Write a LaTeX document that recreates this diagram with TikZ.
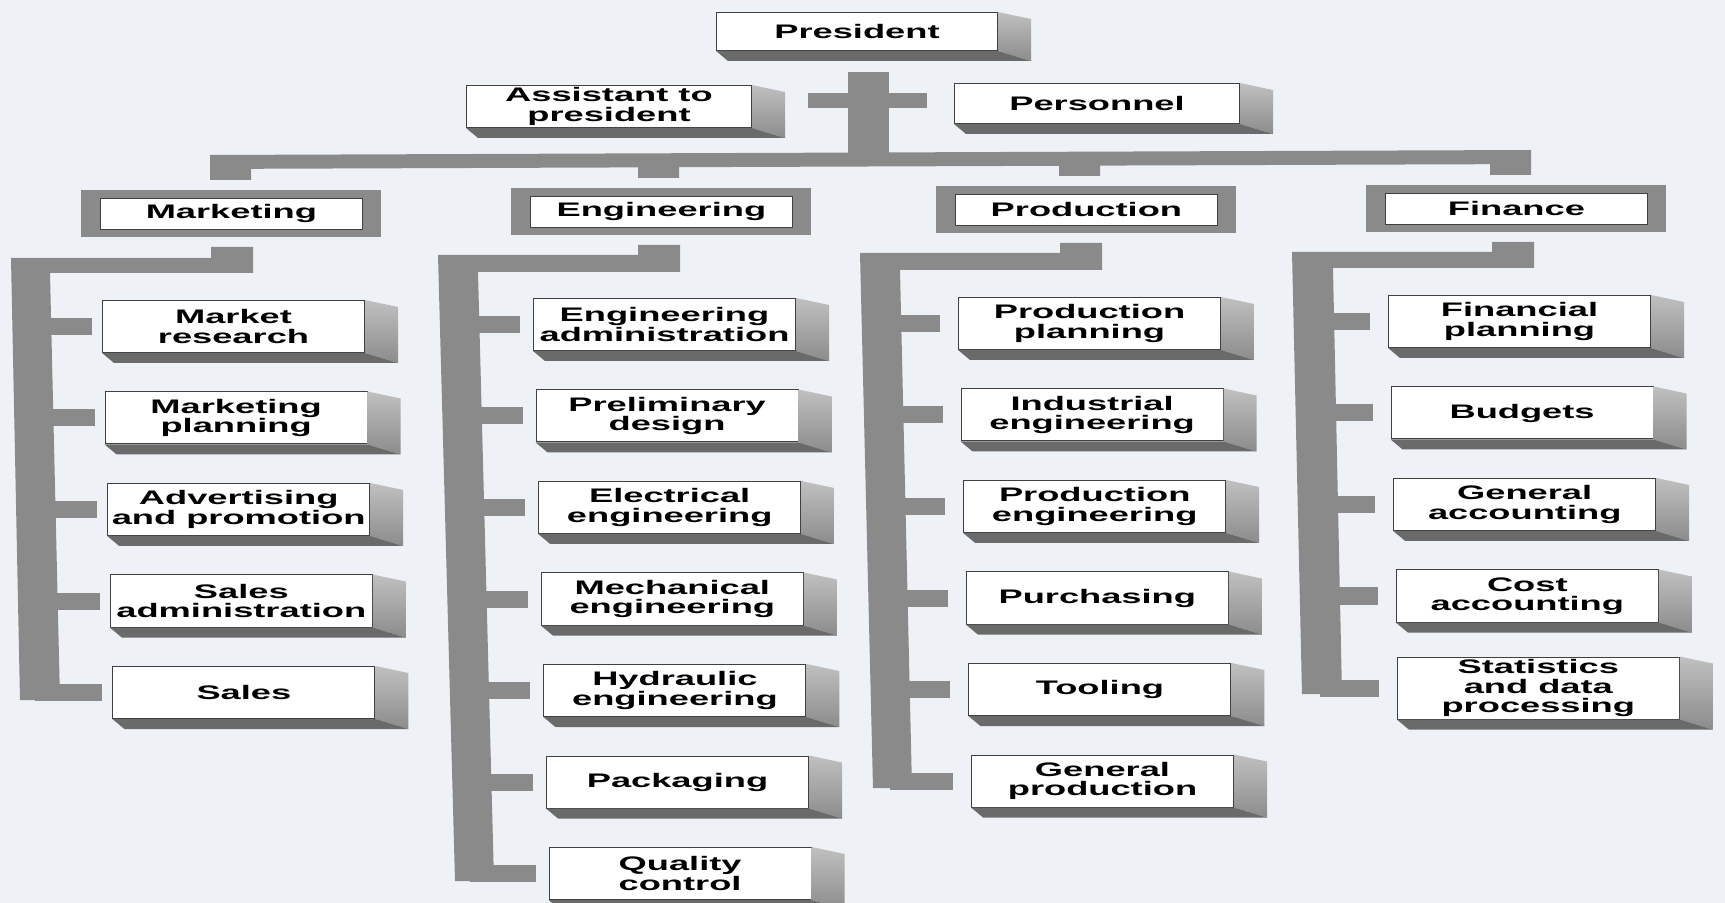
\documentclass[tikz,border=0pt]{standalone}
\usepackage{fontspec}
\newfontfamily\unitfont[FakeStretch=1.85]{Liberation Sans}
\usetikzlibrary{positioning}

\begin{document}
\begin{tikzpicture}[x=0.5pt, y=-0.5pt,
    unit/.style={rectangle, draw=black!75, line width=0.5pt, fill=white,
                 minimum width=131pt, minimum height=26pt, inner sep=0pt,
                 align=center,
                 font=\unitfont\bfseries\fontsize{9.8}{9.7}\selectfont},
    dept/.style={rectangle, fill=bargray, minimum width=150pt,
                 minimum height=23.5pt, inner sep=0pt,
                 font=\unitfont\bfseries\fontsize{9.8}{9.7}\selectfont,
                 path picture={\draw[black!75, line width=0.5pt, fill=white]
                   ([shift={(19,8)}]path picture bounding box.north west)
                   rectangle
                   ([shift={(-19,-8)}]path picture bounding box.south east);}},
    stacked/.style={below=19.25pt of #1, xshift=1.3pt},
    bar/.style={fill=bargray},
    stub/.style={draw=bargray, line width=8.5pt}
]
% Grautoene wie im Scan: Balken mittelgrau, Seitenflaechen heller,
% Bodenflaechen dunkler.
\definecolor{paper}{HTML}{EEF2F7}
\definecolor{bargray}{HTML}{8A8A8A}
\definecolor{sidegray}{HTML}{8C8C8C}
\definecolor{floorgray}{HTML}{6A6A6A}

\clip (0,0) rectangle (1725,903);
\fill[paper] (0,0) rectangle (1725,903);

% Spitze
\node[unit, anchor=north west, minimum width=140.5pt, minimum height=19pt]
    (pres) at (716,12) {President};
\node[unit, anchor=north west, minimum width=142.5pt, minimum height=21pt]
    (asst) at (466,85) {Assistant to\\president};
\node[unit, anchor=north west, minimum width=142.5pt, minimum height=20pt]
    (pers) at (954,83) {Personnel};

\fill[bar] (848,72) rectangle (889,160);
\fill[bar] (808,93) rectangle (927,108);
\fill[bar] (210,155) -- (1531,150) -- (1531,175) -- (1490,175)
    -- (1490,164.2) -- (1100,165.6) -- (1100,176) -- (1059,176)
    -- (1059,165.8) -- (679,167.2) -- (679,178) -- (638,178)
    -- (638,167.4) -- (251,168.8) -- (251,180) -- (210,180) -- cycle;

% Bereiche
\node[dept, anchor=north west] (mkt) at (81,190) {Marketing};
\node[dept, anchor=north west] (eng) at (511,188) {Engineering};
\node[dept, anchor=north west] (prd) at (936,186) {Production};
\node[dept, anchor=north west] (fin) at (1366,185) {Finance};

% Marketing
\fill[bar] (11,258) -- (211,258) -- (211,247) -- (253,247) -- (253,273)
    -- (50,273) -- (60,700) -- (20,700) -- cycle;
\node[unit, anchor=north west] (mr) at (102,300) {Market\\research};
\node[unit, stacked=mr] (mp) {Marketing\\planning};
\node[unit, stacked=mp] (ap) {Advertising\\and promotion};
\node[unit, stacked=ap] (sad) {Sales\\administration};
\node[unit, stacked=sad] (sl) {Sales};
\coordinate (mspine) at (35,0);
\foreach \n in {mr,mp,ap,sad,sl}
    \draw[stub, shorten >=5pt] (\n.west -| mspine) -- (\n.west);

% Engineering
\fill[bar] (438,255) -- (638,255) -- (638,245) -- (680,245) -- (680,272)
    -- (478,272) -- (494,881) -- (455,881) -- cycle;
\node[unit, anchor=north west] (ea) at (533,298) {Engineering\\administration};
\node[unit, stacked=ea] (pd) {Preliminary\\design};
\node[unit, stacked=pd] (ee) {Electrical\\engineering};
\node[unit, stacked=ee] (me) {Mechanical\\engineering};
\node[unit, stacked=me] (he) {Hydraulic\\engineering};
\node[unit, stacked=he] (pk) {Packaging};
\node[unit, stacked=pk] (qc) {Quality\\control};
\coordinate (espine) at (470,0);
\foreach \n in {ea,pd,ee,me,he,pk,qc}
    \draw[stub, shorten >=6.5pt] (\n.west -| espine) -- (\n.west);

% Production
\fill[bar] (860,253) -- (1060,253) -- (1060,243) -- (1102,243) -- (1102,270)
    -- (900,270) -- (912,788) -- (873,788) -- cycle;
\node[unit, anchor=north west] (pp) at (958,297) {Production\\planning};
\node[unit, stacked=pp] (ie) {Industrial\\engineering};
\node[unit, stacked=ie] (pe) {Production\\engineering};
\node[unit, stacked=pe] (pu) {Purchasing};
\node[unit, stacked=pu] (tl) {Tooling};
\node[unit, stacked=tl] (gp) {General\\production};
\coordinate (pspine) at (890,0);
\foreach \n in {pp,ie,pe,pu,tl,gp}
    \draw[stub, shorten >=9pt] (\n.west -| pspine) -- (\n.west);

% Finance
\fill[bar] (1292,252) -- (1492,252) -- (1492,242) -- (1534,242) -- (1534,268)
    -- (1333,268) -- (1342,694) -- (1302,694) -- cycle;
\node[unit, anchor=north west] (fp) at (1388,295) {Financial\\planning};
\node[unit, stacked=fp] (bu) {Budgets};
\node[unit, stacked=bu] (ga) {General\\accounting};
\node[unit, stacked=ga] (ca) {Cost\\accounting};
\node[unit, below=17pt of ca, xshift=5.5pt, minimum width=141pt,
      minimum height=31pt] (sd) {Statistics\\and data\\processing};
\coordinate (fspine) at (1320,0);
\foreach \n in {fp,bu,ga,ca,sd}
    \draw[stub, shorten >=9pt] (\n.west -| fspine) -- (\n.west);

% Tiefe der Kaesten
\foreach \n in {pres,asst,pers,mr,mp,ap,sad,sl,ea,pd,ee,me,he,pk,qc,
                pp,ie,pe,pu,tl,gp,fp,bu,ga,ca,sd}{
    \shade[top color=sidegray!55!white, bottom color=sidegray]
        (\n.north east) -- ([shift={(33,7)}]\n.north east)
        -- ([shift={(33,10)}]\n.south east) -- (\n.south east) -- cycle;
    \fill[floorgray] (\n.south west) -- ([shift={(12,10)}]\n.south west)
        -- ([shift={(33,10)}]\n.south east) -- (\n.south east) -- cycle;
}
\end{tikzpicture}
\end{document}
